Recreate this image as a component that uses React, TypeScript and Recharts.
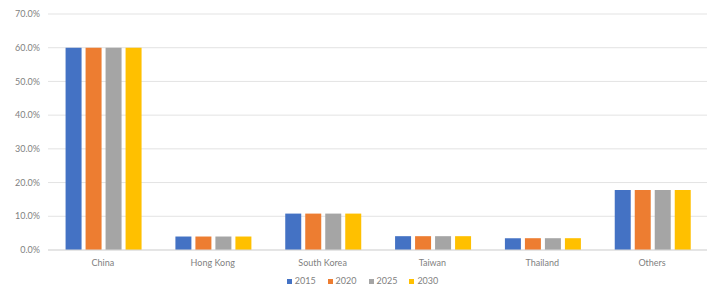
import { BarChart, Bar, XAxis, YAxis, CartesianGrid } from "recharts";

document.body.style.margin = "0";

const regions = ["China", "Hong Kong", "South Korea", "Taiwan", "Thailand", "Others"];
const share2015 = [0.6, 0.04, 0.108, 0.041, 0.035, 0.178];
const share2020 = [0.6, 0.04, 0.108, 0.041, 0.035, 0.178];
const share2025 = [0.6, 0.04, 0.108, 0.041, 0.035, 0.178];
const share2030 = [0.6, 0.04, 0.108, 0.041, 0.035, 0.178];
const yTicks = [0, 0.1, 0.2, 0.3, 0.4, 0.5, 0.6, 0.7];

const series = [
  { key: "2015", color: "#4472C4" },
  { key: "2020", color: "#ED7D31" },
  { key: "2025", color: "#A5A5A5" },
  { key: "2030", color: "#FFC000" },
];

const data = regions.map((name, i) => ({
  name,
  "2015": share2015[i],
  "2020": share2020[i],
  "2025": share2025[i],
  "2030": share2030[i],
}));

const FONT = "Lato, 'Open Sans', sans-serif";
const TEXT = "#7f7f7f";
const GRID = "#e3e3e3";

function LegendRow() {
  return (
    <div
      style={{
        position: "absolute",
        left: 0,
        top: 275,
        width: 711,
        height: 12,
        display: "flex",
        justifyContent: "center",
        gap: 12,
        lineHeight: "12px",
        paddingLeft: 14,
        boxSizing: "border-box",
        fontFamily: FONT,
        fontSize: 9,
        color: TEXT,
      }}
    >
      {series.map((s) => (
        <span key={s.key} style={{ display: "flex", alignItems: "center", gap: 3 }}>
          <span style={{ width: 5, height: 5, background: s.color, display: "inline-block" }} />
          {s.key}
        </span>
      ))}
    </div>
  );
}

export default function App() {
  return (
    <div style={{ position: "relative", background: "#fff", width: 711, height: 287, overflow: "hidden" }}>
      <BarChart
        width={711}
        height={287}
        data={data}
        margin={{ top: 14, right: 4, left: 0, bottom: 14 }}
        barCategoryGap="16%"
        barGap={4}
      >
        <CartesianGrid vertical={false} stroke={GRID} />
        <XAxis
          dataKey="name"
          height={23}
          axisLine={{ stroke: "#d9d9d9" }}
          tickLine={false}
          dy={2}
          tick={{ fill: TEXT, fontSize: 9, fontFamily: FONT }}
        />
        <YAxis
          width={48}
          domain={[0, 0.7]}
          ticks={yTicks}
          axisLine={false}
          tickLine={false}
          tickFormatter={(v: number) => (v * 100).toFixed(1) + "%"}
          tick={{ fill: TEXT, fontSize: 9, fontFamily: FONT }}
        />
        {series.map((s) => (
          <Bar key={s.key} dataKey={s.key} fill={s.color} isAnimationActive={false} />
        ))}
      </BarChart>
      <LegendRow />
    </div>
  );
}
